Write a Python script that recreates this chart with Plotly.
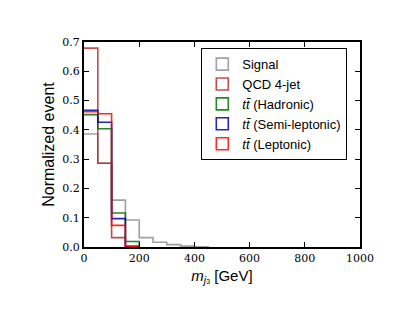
import plotly.graph_objects as go

# histogram bin edges (GeV) and normalized contents per 50 GeV bin
bin_edges = list(range(0, 1001, 50))
signal = [0.386, 0.286, 0.160, 0.092, 0.032, 0.016, 0.008, 0.003, 0.001, 0.0,
          0.0, 0.0, 0.0, 0.0, 0.0, 0.0, 0.0, 0.0, 0.0, 0.0]
qcd_4jet = [0.679, 0.286, 0.032, 0.0, 0.0, 0.0, 0.0, 0.0, 0.0, 0.0,
            0.0, 0.0, 0.0, 0.0, 0.0, 0.0, 0.0, 0.0, 0.0, 0.0]
tt_hadronic = [0.452, 0.404, 0.116, 0.019, 0.0, 0.0, 0.0, 0.0, 0.0, 0.0,
               0.0, 0.0, 0.0, 0.0, 0.0, 0.0, 0.0, 0.0, 0.0, 0.0]
tt_semileptonic = [0.467, 0.426, 0.097, 0.002, 0.0, 0.0, 0.0, 0.0, 0.0, 0.0,
                   0.0, 0.0, 0.0, 0.0, 0.0, 0.0, 0.0, 0.0, 0.0, 0.0]
tt_leptonic = [0.462, 0.455, 0.074, 0.002, 0.0, 0.0, 0.0, 0.0, 0.0, 0.0,
               0.0, 0.0, 0.0, 0.0, 0.0, 0.0, 0.0, 0.0, 0.0, 0.0]

series = [
    ("Signal", signal, "rgba(128,128,128,0.75)"),
    ("QCD 4-jet", qcd_4jet, "rgba(178,34,34,0.8)"),
    ("<i>tt̄</i> (Hadronic)", tt_hadronic, "rgba(0,110,0,0.85)"),
    ("<i>tt̄</i> (Semi-leptonic)", tt_semileptonic, "rgba(0,0,170,0.85)"),
    ("<i>tt̄</i> (Leptonic)", tt_leptonic, "rgba(255,0,0,0.85)"),
]

fig = go.Figure()

for name, vals, color in series:
    # step outline over the filled bins, dropping to the baseline after the last one
    last = max(i for i, v in enumerate(vals) if v > 0) + 1
    xs = bin_edges[:last + 1]
    ys = vals[:last] + [0.0]
    fig.add_trace(go.Scatter(x=xs, y=ys, mode='lines', line_shape='hv',
                             line=dict(color=color, width=1.6),
                             showlegend=False, legendgroup=name, hoverinfo='skip'))
    # legend swatch (rectangle patch like matplotlib)
    fig.add_trace(go.Bar(x=[None], y=[None], name=name, legendgroup=name,
                         marker=dict(color='rgba(0,0,0,0)', line=dict(color=color, width=1.6))))

axis_common = dict(
    showline=True, linecolor='black', linewidth=2, mirror='ticks',
    ticks='inside', ticklen=5, tickwidth=1, tickcolor='black',
    showgrid=False, zeroline=False,
    tickfont=dict(family='DejaVu Serif', size=11, color='black'),
)

fig.update_xaxes(range=[0, 1000], tickvals=[0, 200, 400, 600, 800, 1000],
                 title=dict(text='<i>m</i><sub><i>j</i><span style="font-size:7px">3</span></sub> [GeV]',
                            standoff=6,
                            font=dict(family='Liberation Sans', size=15, color='black')),
                 **axis_common)
fig.update_yaxes(range=[0, 0.7], dtick=0.1, tickformat='.1f',
                 title=dict(text='Normalized event', standoff=4,
                            font=dict(family='Liberation Sans', size=16, color='black')),
                 **axis_common)

# page body adds an 8px offset, so the figure is slightly smaller
fig.update_layout(
    width=403, height=319,
    margin=dict(l=76, r=51, t=34, b=80),
    plot_bgcolor='white', paper_bgcolor='white',
    legend=dict(x=0.425, y=0.97, xanchor='left', yanchor='top',
                bgcolor='white', bordercolor='black', borderwidth=1,
                font=dict(family='Liberation Sans', size=13, color='black'),
                tracegroupgap=0, itemwidth=30),
)

fig.write_html("out.html")
